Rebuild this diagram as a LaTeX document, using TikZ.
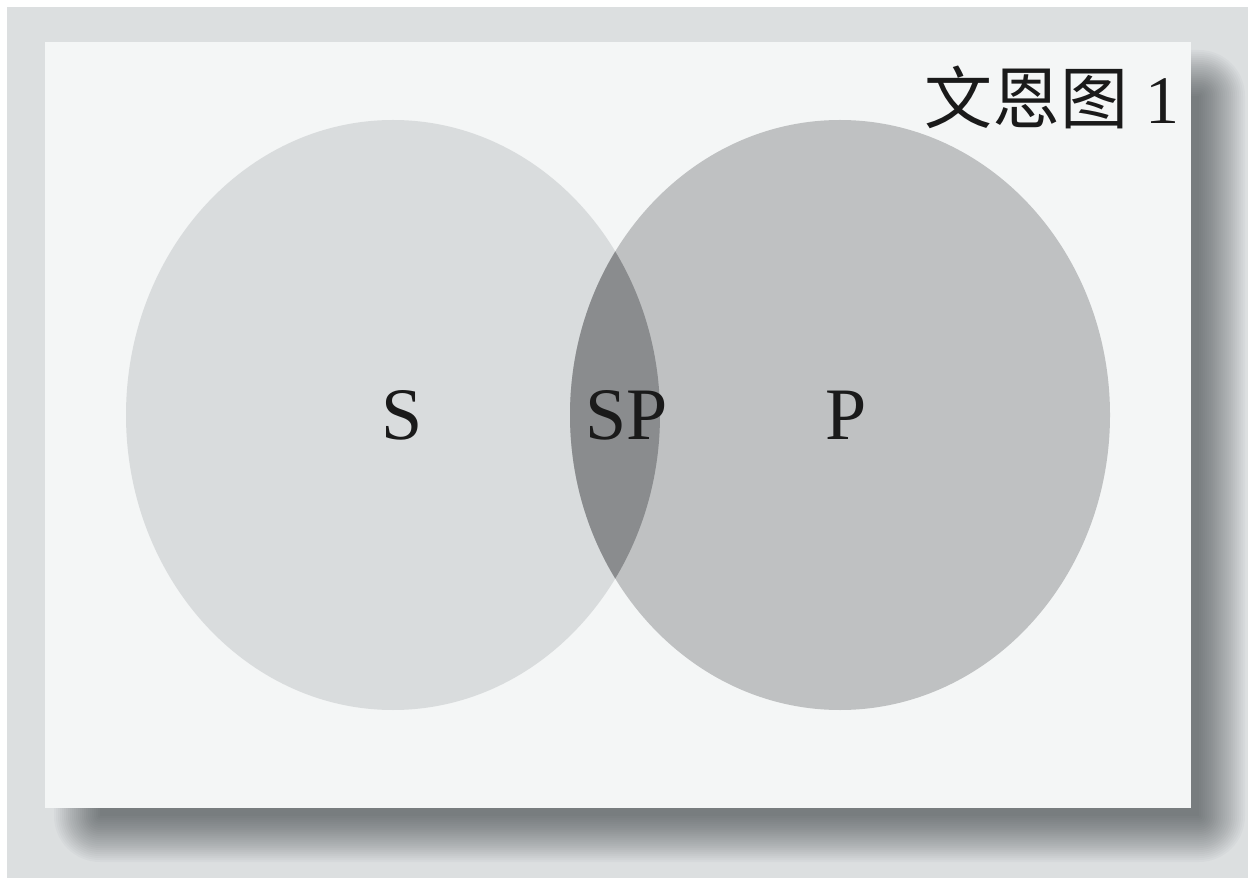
\documentclass[tikz,border=0pt]{standalone}
\usepackage{fontspec}
\setmainfont{Liberation Serif}
\newfontfamily\cjk{Noto Sans CJK SC}
\definecolor{outerbg}{HTML}{DCDFE0}
\definecolor{cardbg}{HTML}{F4F6F6}
\definecolor{leftc}{HTML}{D9DCDD}
\definecolor{rightc}{HTML}{BFC1C2}
\definecolor{midc}{HTML}{8A8C8E}
\definecolor{inkc}{HTML}{1A1A1A}
\definecolor{shadowc}{HTML}{20262A}
\tikzset{
  lbl/.style={text=inkc, font=\fontsize{74}{80}\selectfont, inner sep=0pt},
  ttl/.style={text=inkc, font=\fontsize{68}{76}\selectfont, inner sep=0pt, anchor=base east},
  shadowlayer/.style={fill=shadowc, fill opacity=0.027},
}
\begin{document}
\begin{tikzpicture}[x=1pt,y=-1pt]
\useasboundingbox (0,0) rectangle (1253,882);
\fill[white] (0,0) rectangle (1253,882);
\fill[outerbg] (7,7) rectangle (1248,878);
% soft shadow built from stacked translucent layers
\foreach \k in {0,...,23}{
  \pgfmathsetmacro{\e}{2*\k}
  \fill[shadowlayer, rounded corners=\e pt] (100-\e,96-\e) rectangle (1199+\e,816+\e);
}
\fill[cardbg] (45,42) rectangle (1191,808);
\fill[leftc] (393,415) ellipse [x radius=267, y radius=295];
\fill[rightc] (840,415) ellipse [x radius=270, y radius=295];
\begin{scope}
  \clip (393,415) ellipse [x radius=267, y radius=295];
  \fill[midc] (840,415) ellipse [x radius=270, y radius=295];
\end{scope}
\node[lbl] (s) at (402,415) {S};
\node[lbl] (sp) at (627,415) {SP};
\node[lbl] (p) at (846,415) {P};
\node[ttl] (title) at (1180,124) {{\cjk 文恩图}\ 1};
\end{tikzpicture}
\end{document}
